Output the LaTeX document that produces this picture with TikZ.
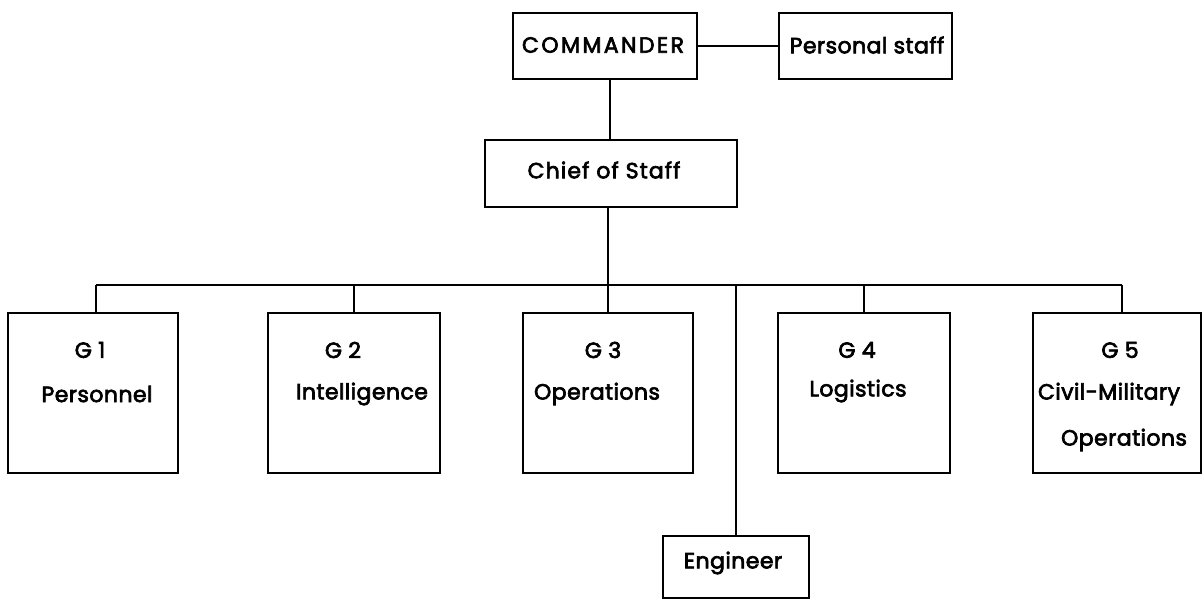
\documentclass[tikz,border=0pt]{standalone}
\usepackage{fontspec}
\setmainfont{Poppins}[FakeBold=3,LetterSpace=2]
\usetikzlibrary{positioning}

\tikzset{
  orgbox/.style={rectangle,draw,line width=2.6pt,inner sep=0pt},
  lbl/.style={font=\fontsize{22}{26}\selectfont,inner sep=0pt},
  link/.style={line width=2.6pt}
}

\begin{document}
\begin{tikzpicture}[x=1pt,y=-1pt]
\useasboundingbox (0,0) rectangle (1203,601);
% top of the chart
\node[orgbox,minimum width=184pt,minimum height=66pt] (cmdr) at (605,46) {};
\node[orgbox,minimum width=173pt,minimum height=66pt] (pstaff) at (865.5,46) {};
\node[orgbox,minimum width=252pt,minimum height=67pt] (chief) at (611,173.5) {};
\node[lbl] (cmdrt) at (603,45) {\addfontfeature{LetterSpace=11}COMMANDER};
\node[lbl] (pstafft) at (867,45) {Personal staff};
\node[lbl] (chieft) at (604,170) {\addfontfeature{LetterSpace=5}Chief of Staff};
% staff sections
\node[orgbox,minimum width=170pt,minimum height=160pt] (g1) at (93,393) {};
\node[orgbox,minimum width=172pt,minimum height=160pt] (g2) at (354,393) {};
\node[orgbox,minimum width=170pt,minimum height=160pt] (g3) at (608,393) {};
\node[orgbox,minimum width=172pt,minimum height=160pt] (g4) at (864,393) {};
\node[orgbox,minimum width=168pt,minimum height=160pt] (g5) at (1117,393) {};
\node[orgbox,minimum width=146pt,minimum height=62pt] (eng) at (736,567) {};
\node[lbl] (g1a) at (90,350) {G 1};
\node[lbl] (g1b) at (97,394) {Personnel};
\node[lbl] (g2a) at (343,350) {G 2};
\node[lbl] (g2b) at (362,394) {Intelligence};
\node[lbl] (g3a) at (603,350) {G 3};
\node[lbl] (g3b) at (597,394) {Operations};
\node[lbl] (g4a) at (857,350) {G 4};
\node[lbl] (g4b) at (858,391) {Logistics};
\node[lbl] (g5a) at (1120,350) {G 5};
\node[lbl] (g5b) at (1109,394) {Civil-Military};
\node[lbl] (g5c) at (1124,440) {Operations};
\node[lbl] (engt) at (733,563) {Engineer};
% connectors
\coordinate (busL) at (96,285);
\coordinate (busR) at (1122,285);
\draw[link] (cmdr.east) -- (pstaff.west);
\draw[link] (610,0 |- cmdr.south) -- (610,0 |- chief.north);
\draw[link] (608,0 |- chief.south) -- (608,0 |- busL);
\draw[link] (busL) -- (busR);
\draw[link] (busL) -- (busL |- g1.north);
\draw[link] (g2.north) -- (g2.north |- busL);
\draw[link] (g3.north) -- (g3.north |- busL);
\draw[link] (g4.north) -- (g4.north |- busL);
\draw[link] (busR) -- (busR |- g5.north);
\draw[link] (eng.north) -- (eng.north |- busL);
\end{tikzpicture}
\end{document}
